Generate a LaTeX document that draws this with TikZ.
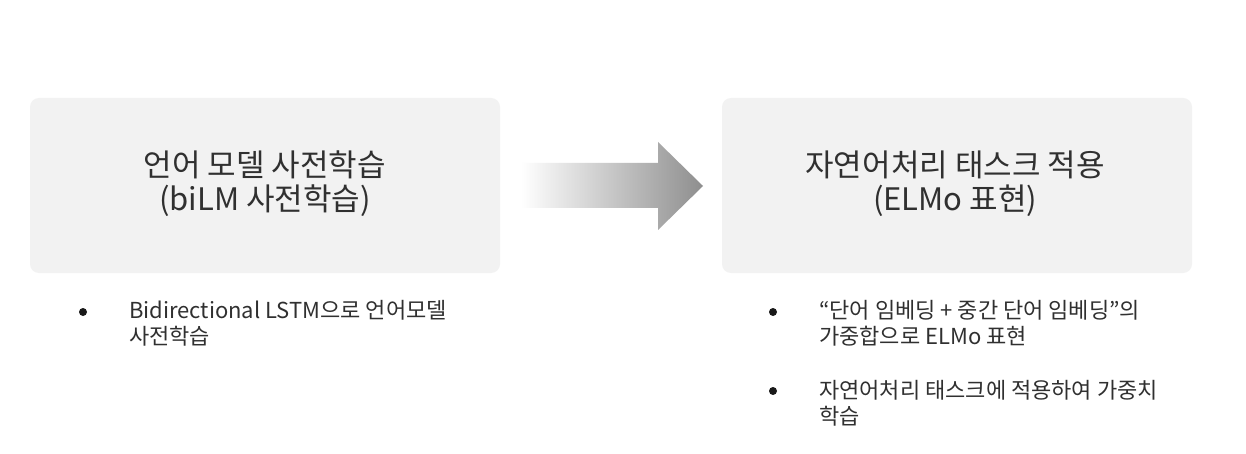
\documentclass[tikz,border=0pt]{standalone}
\usepackage{fontspec}
\setmainfont{Noto Sans CJK KR}
\definecolor{boxfill}{HTML}{F2F2F2}
\definecolor{txt}{HTML}{303030}
\definecolor{arrowdark}{HTML}{8E8E8E}
\tikzset{
  panel/.style={fill=boxfill, draw=none, rounded corners=9pt, minimum width=470pt, minimum height=175pt, inner sep=0pt},
  titleline/.style={anchor=base, inner sep=0pt, text=txt, font=\fontsize{31}{38}\selectfont},
  itemline/.style={anchor=base west, inner sep=0pt, text=txt, font=\fontsize{22}{26}\selectfont},
  dot/.style={circle, fill=black!90, inner sep=0pt, minimum size=8pt},
}
\begin{document}
\begin{tikzpicture}[x=1pt,y=-1pt]
\useasboundingbox[fill=white] (0,0) rectangle (1246,454);
% panels
\node[panel] (left) at (265,185.5) {};
\node[panel] (right) at (957,185.5) {};
% titles
\node[titleline] (lt1) at (265,177) {언어 모델 사전학습};
\node[titleline] (lt2) at (265,211) {(biLM 사전학습)};
\node[titleline] (rt1) at (955,177) {자연어처리 태스크 적용};
\node[titleline] (rt2) at (955,211) {(ELMo 표현)};
% block arrow
\shade[left color=white, right color=arrowdark]
  (521,163) -- (658,163) -- (658,142) -- (703,186) -- (658,230) -- (658,208) -- (521,208) -- cycle;
% left bullets
\node[dot] (b1) at (83,312) {};
\node[itemline] (l1a) at (129,318) {Bidirectional LSTM으로 언어모델};
\node[itemline] (l1b) at (129,344) {사전학습};
% right bullets
\node[dot] (b2) at (773,312) {};
\node[itemline] (r1a) at (819,318) {“단어 임베딩 + 중간 단어 임베딩”의};
\node[itemline] (r1b) at (819,344) {가중합으로 ELMo 표현};
\node[dot] (b3) at (773,391) {};
\node[itemline] (r2a) at (819,398) {자연어처리 태스크에 적용하여 가중치};
\node[itemline] (r2b) at (819,424) {학습};
\end{tikzpicture}
\end{document}
